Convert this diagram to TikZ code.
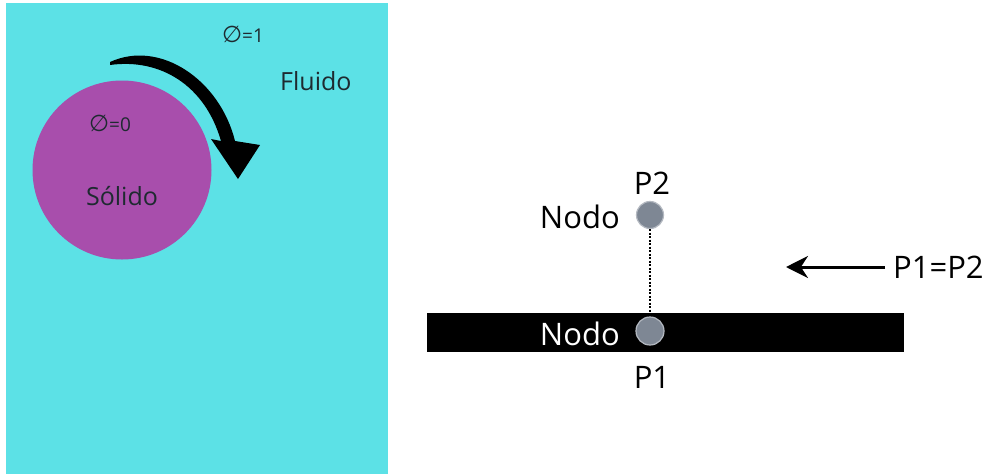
\documentclass[tikz,border=0pt]{standalone}
\usepackage{fontspec}
\setmainfont{Open Sans}
\newfontfamily\symfont{DejaVu Sans}
\usetikzlibrary{arrows.meta}
\definecolor{fluidc}{HTML}{5CE1E6}
\definecolor{solidc}{HTML}{A84EAC}
\definecolor{nodec}{HTML}{7E8794}
\definecolor{nodeb}{HTML}{B4B9C1}
\definecolor{txtc}{HTML}{1E2A30}
\tikzset{
  bigtxt/.style={font=\fontsize{31}{34}\selectfont, inner sep=0pt},
  midtxt/.style={font=\fontsize{25}{28}\selectfont, inner sep=0pt, text=txtc},
  smalltxt/.style={font=\fontsize{19}{22}\selectfont, inner sep=0pt, text=txtc},
  pnode/.style={circle, fill=nodec, draw=nodeb, line width=1.2pt, minimum size=28pt, inner sep=0pt},
}
\newcommand{\phisym}{{\symfont\fontsize{23}{24}\selectfont ∅}}
\begin{document}
\begin{tikzpicture}[x=1pt,y=-1pt]
\useasboundingbox (0,0) rectangle (986,475);
\fill[white] (0,0) rectangle (986,475);
% left panel
\fill[fluidc] (6,3) rectangle (388,474);
\node[circle, fill=solidc, minimum size=179pt, inner sep=0pt] (solid) at (122,170) {};
\node[midtxt] (solidlbl) at (122,196) {Sólido};
\node[midtxt, anchor=west] (fluidlbl) at (280,81) {Fluido};
\node[smalltxt, anchor=west] (phi1) at (222,34) {\phisym=1};
\node[smalltxt, anchor=west] (phi0) at (89,123) {\phisym=0};
% curved brush arrow
\fill[black] (110,62) .. controls (160,39) and (220,80) .. (235,141)
  -- (260,145) -- (238,179) -- (211,139) -- (221,141)
  .. controls (205,85) and (160,58) .. (110,65) -- cycle;
% right panel
\fill[black] (427,313) rectangle (904,352);
\coordinate (barN) at (650,313);
\node[pnode, minimum size=27pt] (P2) at (650,215) {};
\node[pnode] (P1) at (650,331) {};
\node[bigtxt, anchor=east] (n2) at (620,217) {Nodo};
\node[bigtxt, anchor=east, text=white] (n1) at (620,334) {Nodo};
\node[bigtxt] (p2lbl) at (652,183) {P2};
\node[bigtxt] (p1lbl) at (652,377) {P1};
\draw[line width=2.2pt, dash pattern=on 2pt off 1.5pt] (P2.south) -- (barN);
\node[bigtxt, anchor=west] (eq) at (893,267) {P1=P2};
\coordinate (arrStart) at (885,267);
\coordinate (arrEnd) at (786,267);
\draw[line width=3pt, -{Stealth[length=22pt, width=22pt]}] (arrStart) -- (arrEnd);
\end{tikzpicture}
\end{document}
